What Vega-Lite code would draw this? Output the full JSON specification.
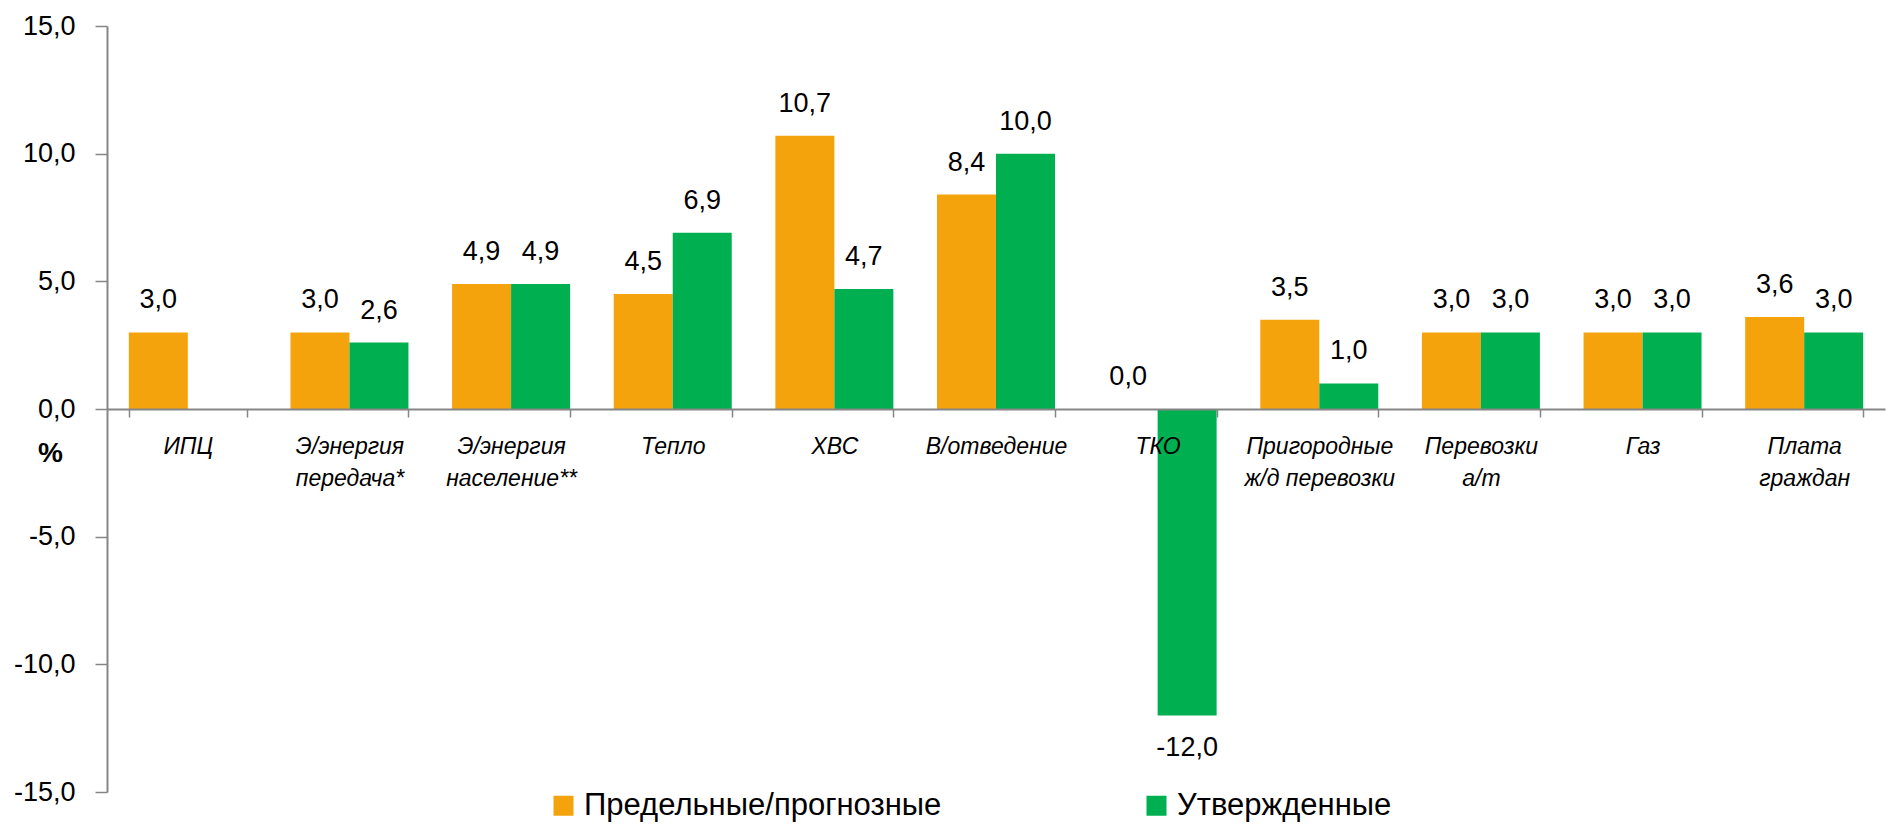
{
  "$schema": "https://vega.github.io/schema/vega-lite/v6.json",
  "autosize": {"type": "none"},
  "padding": {"left": 107, "top": 26, "right": 10, "bottom": 35},
  "width": 1778,
  "height": 766,
  "background": "white",
  "config": {
    "font": "Liberation Sans",
    "view": {"stroke": null},
    "locale": {"number": {"decimal": ",", "thousands": " ", "grouping": [3], "currency": ["", ""], "minus": "-"}}
  },
  "data": {
    "values": [
      {"category": "ИПЦ", "series": "Предельные/прогнозные", "value": 3.0},
      {"category": "Э/энергия\nпередача*", "series": "Предельные/прогнозные", "value": 3.0},
      {"category": "Э/энергия\nпередача*", "series": "Утвержденные", "value": 2.6},
      {"category": "Э/энергия\nнаселение**", "series": "Предельные/прогнозные", "value": 4.9},
      {"category": "Э/энергия\nнаселение**", "series": "Утвержденные", "value": 4.9},
      {"category": "Тепло", "series": "Предельные/прогнозные", "value": 4.5},
      {"category": "Тепло", "series": "Утвержденные", "value": 6.9},
      {"category": "ХВС", "series": "Предельные/прогнозные", "value": 10.7},
      {"category": "ХВС", "series": "Утвержденные", "value": 4.7},
      {"category": "В/отведение", "series": "Предельные/прогнозные", "value": 8.4},
      {"category": "В/отведение", "series": "Утвержденные", "value": 10.0},
      {"category": "ТКО", "series": "Предельные/прогнозные", "value": 0.0},
      {"category": "ТКО", "series": "Утвержденные", "value": -12.0},
      {"category": "Пригородные\nж/д перевозки", "series": "Предельные/прогнозные", "value": 3.5},
      {"category": "Пригородные\nж/д перевозки", "series": "Утвержденные", "value": 1.0},
      {"category": "Перевозки\nа/т", "series": "Предельные/прогнозные", "value": 3.0},
      {"category": "Перевозки\nа/т", "series": "Утвержденные", "value": 3.0},
      {"category": "Газ", "series": "Предельные/прогнозные", "value": 3.0},
      {"category": "Газ", "series": "Утвержденные", "value": 3.0},
      {"category": "Плата\nграждан", "series": "Предельные/прогнозные", "value": 3.6},
      {"category": "Плата\nграждан", "series": "Утвержденные", "value": 3.0}
    ]
  },
  "encoding": {
    "x": {
      "field": "category",
      "type": "nominal",
      "sort": null,
      "scale": {"paddingInner": 0.27, "paddingOuter": 0.135},
      "axis": {
        "title": null,
        "orient": "bottom",
        "offset": -383,
        "zindex": 1,
        "labelAngle": 0,
        "labelExpr": "split(datum.label, '\\n')",
        "labelFont": "Liberation Sans",
        "labelFontStyle": "italic",
        "labelFontSize": 23,
        "labelLineHeight": 32,
        "labelColor": "#000000",
        "labelPadding": 18,
        "labelBaseline": "top",
        "domainColor": "#868686",
        "domainWidth": 2,
        "tickColor": "#868686",
        "tickWidth": 1.5,
        "tickSize": 8,
        "tickBand": "extent",
        "grid": false
      }
    },
    "xOffset": {"field": "series", "type": "nominal", "sort": ["Предельные/прогнозные", "Утвержденные"], "scale": {"paddingInner": 0, "paddingOuter": 0}},
    "y": {
      "field": "value",
      "type": "quantitative",
      "scale": {"domain": [-15, 15], "nice": false},
      "axis": {
        "values": [-15, -10, -5, 0, 5, 10, 15],
        "format": ".1f",
        "labelFont": "Liberation Sans",
        "labelFontSize": 27,
        "labelColor": "#000000",
        "labelPadding": 20,
        "domainColor": "#868686",
        "domainWidth": 2,
        "tickColor": "#868686",
        "tickWidth": 1.5,
        "tickSize": 12,
        "grid": false,
        "title": "%",
        "titleAngle": 0,
        "titleX": -57,
        "titleY": 427,
        "titleAlign": "center",
        "titleBaseline": "middle",
        "titleFont": "Liberation Sans",
        "titleFontSize": 28,
        "titleFontWeight": "bold",
        "titleColor": "#000000"
      }
    }
  },
  "layer": [
    {
      "mark": {"type": "bar"},
      "encoding": {
        "color": {
          "field": "series",
          "type": "nominal",
          "sort": ["Предельные/прогнозные", "Утвержденные"],
          "scale": {"domain": ["Предельные/прогнозные", "Утвержденные"], "range": ["#F5A30C", "#00B050"]},
          "legend": {
            "title": null,
            "orient": "none",
            "direction": "horizontal",
            "legendX": 441,
            "legendY": 764,
            "symbolType": "square",
            "symbolSize": 400,
            "symbolStrokeWidth": 0,
            "labelFont": "Liberation Sans",
            "labelFontSize": 31,
            "labelColor": "#000000",
            "labelOffset": 5,
            "columnPadding": 199,
            "labelLimit": 600
          }
        }
      }
    },
    {
      "transform": [{"filter": "datum.value >= 0"}],
      "mark": {"type": "text", "baseline": "alphabetic", "dy": -24, "fontSize": 27, "font": "Liberation Sans", "color": "#000000"},
      "encoding": {
        "text": {"field": "value", "type": "quantitative", "format": ".1f"}
      }
    },
    {
      "transform": [{"filter": "datum.value < 0"}],
      "mark": {"type": "text", "baseline": "top", "dy": 20, "fontSize": 27, "font": "Liberation Sans", "color": "#000000"},
      "encoding": {
        "text": {"field": "value", "type": "quantitative", "format": ".1f"}
      }
    }
  ]
}
